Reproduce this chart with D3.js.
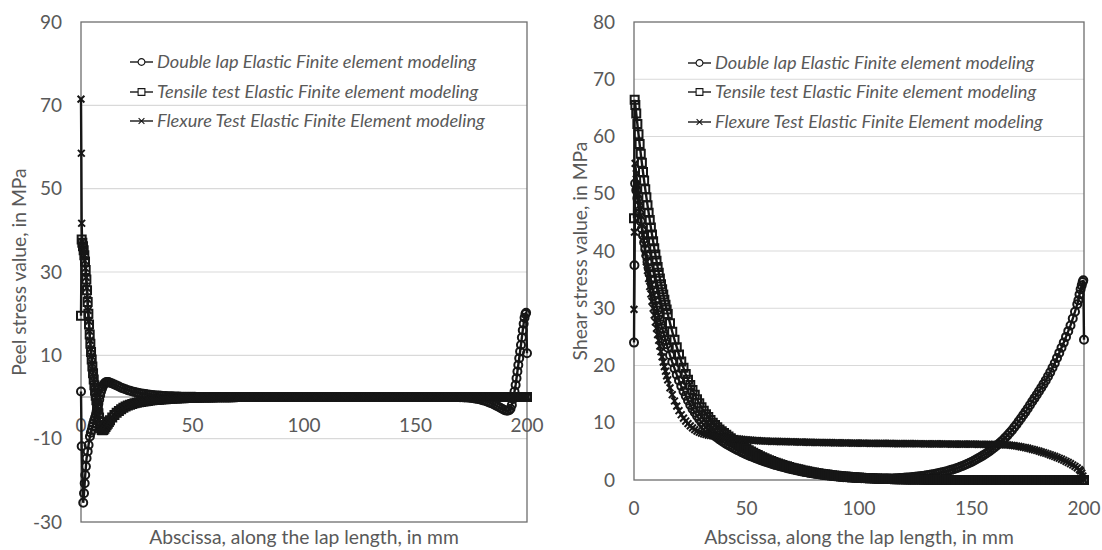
<!DOCTYPE html>
<html><head><meta charset="utf-8">
<script src="https://cdn.jsdelivr.net/npm/d3@7"></script>
<style>body{margin:0;background:#fff} text{font-family:Lato,"Open Sans",sans-serif}</style>
</head><body>
<svg id="c" width="1102" height="550"></svg>
<script>
// ---------- shared labels ----------
const seriesNames = ["Double lap Elastic Finite element modeling","Tensile test Elastic Finite element modeling","Flexure Test Elastic Finite Element modeling"];
const xTitle = "Abscissa, along the lap length, in mm";
const peelTitle = "Peel stress value, in MPa";
const shearTitle = "Shear stress value, in MPa";
const xTickValues = [0,50,100,150,200];
const peelTickValues = [-30,-10,10,30,50,70,90];
const shearTickValues = [0,10,20,30,40,50,60,70,80];

// ---------- PEEL (left chart) ----------
const peelGridX = [13,14,15,16,17,18,19,20,21,22,23,24,25,26,27,28,29,30,31,32,
33,34,35,36,37,38,39,40,41,42,43,44,45,46,47,48,49,50,51,52,
53,54,55,56,57,58,59,60,61,62,63,64,65,66,67,68,69,70,71,72,
73,74,75,76,77,78,79,80,81,82,83,84,85,86,87,88,89,90,91,92,
93,94,95,96,97,98,99,100,101,102,103,104,105,106,107,108,109,110,111,112,
113,114,115,116,117,118,119,120,121,122,123,124,125,126,127,128,129,130,131,132,
133,134,135,136,137,138,139,140,141,142,143,144,145,146,147,148,149,150,151,152,
153,154,155,156,157,158,159,160,161,162,163,164,165,166,167,168,169,170,171,172,
173,174,175,176,177,178,179,180,181,182,183,184,185,186,187,188,189,190,191,192];

const peelDoubleStart = [[0,1.3],[0.3,-11.8],[1.0,-25.4],[1.35,-23.1],[1.65,-20.7],[1.9,-18.7],[2.2,-16.7],[2.5,-14.7],[3.0,-13.1],[3.4,-11.5],[4.0,-9.5],[4.4,-8.6],[4.8,-7.9],[5.15,-7.1],[5.5,-6.3],[5.9,-5.6],[6.3,-4.9],[6.7,-4.2],[7.0,-3.5],[7.4,-2.6],[7.8,-1.6],[8.2,-0.6],[8.6,0.4],[9.0,1.3],[9.4,2.0],[9.8,2.6],[10.2,3.0],[10.6,3.3],[11.0,3.5],[11.5,3.6],[12.0,3.6],[12.5,3.55]];
const peelDoubleMid = [3.45,3.25,3.0,2.75,2.5,2.25,2.05,1.85,1.65,1.5,1.35,1.2,1.08,0.97,0.87,0.78,0.7,0.62,0.55,0.49,
0.43,0.38,0.34,0.3,0.26,0.23,0.2,0.18,0.16,0.14,0.12,0.1,0.09,0.08,0.07,0.06,0.05,0.04,0.04,0.03,
0.03,0.02,0.02,0.02,0.01,0.01,0.01,0.01,0,0,0,0,0,0,0,0,0,0,0,0,
0,0,0,0,0,0,0,0,0,0,0,0,0,0,0,0,0,0,0,0,
0,0,0,0,0,0,0,0,0,0,0,0,0,0,0,0,0,0,0,0,
0,0,0,0,0,0,0,0,0,0,0,0,0,0,0,0,0,0,0,0,
0,0,0,0,0,0,0,0,0,0,0,0,0,0,0,0,0,0,0,0,
0,0,0,0,0,0,0,0,0,0,0,0,0,0,0,0,-0.02,-0.04,-0.06,-0.09,
-0.13,-0.18,-0.24,-0.31,-0.4,-0.5,-0.62,-0.76,-0.92,-1.1,-1.3,-1.52,-1.76,-2.02,-2.3,-2.6,-2.9,-3.15,-3.3,-3.2];
const peelDoubleEnd = [[192.6,-2.8],[193.2,-1.9],[193.8,-0.5],[194.4,1.3],[194.9,2.9],[195.3,4.5],[195.7,6.1],[196.1,7.7],[196.5,9.3],[196.9,10.9],[197.3,12.5],[197.7,14.3],[198.1,16],[198.5,17.6],[198.9,19],[199.3,19.9],[199.6,20.2],[200,10.5]];

const peelTensileStart = [[0,19.5],[0.3,37.8],[0.6,37],[0.9,36.2],[1.2,35.2],[1.5,34],[1.8,32.5],[2.1,30.5],[2.4,28.2],[2.7,25.6],[3.0,22.8],[3.3,20],[3.6,17.4],[3.9,15],[4.2,12.8],[4.5,10.8],[4.8,9],[5.1,7.3],[5.4,5.7],[5.7,4.2],[6.0,2.8],[6.3,1.5],[6.6,0.3],[6.9,-0.8],[7.2,-1.9],[7.5,-2.9],[7.8,-3.9],[8.1,-4.9],[8.4,-5.9],[8.7,-6.8],[9.0,-7.5],[9.3,-7.9],[9.6,-8.0],[10,-7.9],[10.5,-7.6],[11,-7.2],[11.5,-6.8],[12,-6.4],[12.5,-6.0]];
const peelTensileMid = [-5.6,-4.9,-4.3,-3.8,-3.35,-2.95,-2.6,-2.3,-2.05,-1.85,-1.65,-1.5,-1.38,-1.27,-1.17,-1.08,-1.0,-0.93,-0.86,-0.8,
-0.74,-0.69,-0.64,-0.59,-0.55,-0.51,-0.47,-0.44,-0.41,-0.38,-0.35,-0.32,-0.3,-0.28,-0.26,-0.24,-0.22,-0.2,-0.18,-0.17,
-0.15,-0.14,-0.13,-0.12,-0.11,-0.1,-0.09,-0.08,-0.07,-0.06,-0.05,-0.05,-0.04,-0.04,-0.03,-0.03,-0.02,-0.02,-0.01,-0.01,
0,0,0,0,0,0,0,0,0,0,0,0,0,0,0,0,0,0,0,0,
0,0,0,0,0,0,0,0,0,0,0,0,0,0,0,0,0,0,0,0,
0,0,0,0,0,0,0,0,0,0,0,0,0,0,0,0,0,0,0,0,
0,0,0,0,0,0,0,0,0,0,0,0,0,0,0,0,0,0,0,0,
0,0,0,0,0,0,0,0,0,0,0,0,0,0,0,0,0,0,0,0,
0,0,0,0,0,0,0,0,0,0,0,0,0,0,0,0,0,0,0,0];
const peelTensileEnd = [[193,0],[194,0],[195,0],[196,0],[197,0],[198,0],[199,0],[200,0]];

const peelFlexureStart = [[0,71.5],[0.15,58.5],[0.3,41.7],[0.5,37.2],[0.8,36.3],[1.1,35.3],[1.4,34.1],[1.7,32.7],[2.0,30.9],[2.3,28.7],[2.6,26.2],[2.9,23.5],[3.2,20.8],[3.5,18.2],[3.8,15.8],[4.1,13.6],[4.4,11.6],[4.7,9.8],[5.0,8.1],[5.3,6.5],[5.6,5.0],[5.9,3.6],[6.2,2.3],[6.5,1.1],[6.8,0],[7.1,-1.1],[7.4,-2.2],[7.7,-3.3],[8.0,-4.4],[8.3,-5.4],[8.6,-6.4],[8.9,-7.2],[9.2,-7.8],[9.5,-8.1],[9.9,-8.1],[10.3,-7.9],[10.8,-7.5],[11.3,-7.0],[11.8,-6.6],[12.4,-6.1]];
const peelFlexureMid = [-5.7,-5.0,-4.4,-3.9,-3.45,-3.05,-2.7,-2.4,-2.15,-1.93,-1.74,-1.58,-1.45,-1.33,-1.22,-1.12,-1.03,-0.95,-0.88,-0.81,
-0.75,-0.7,-0.65,-0.6,-0.56,-0.52,-0.48,-0.45,-0.42,-0.39,-0.36,-0.33,-0.31,-0.29,-0.27,-0.25,-0.23,-0.21,-0.19,-0.18,
-0.16,-0.15,-0.14,-0.13,-0.12,-0.11,-0.1,-0.09,-0.08,-0.07,-0.06,-0.05,-0.05,-0.04,-0.04,-0.03,-0.03,-0.02,-0.02,-0.01,
0,0,0,0,0,0,0,0,0,0,0,0,0,0,0,0,0,0,0,0,
0,0,0,0,0,0,0,0,0,0,0,0,0,0,0,0,0,0,0,0,
0,0,0,0,0,0,0,0,0,0,0,0,0,0,0,0,0,0,0,0,
0,0,0,0,0,0,0,0,0,0,0,0,0,0,0,0,0,0,0,0,
0,0,0,0,0,0,0,0,0,0,0,0,0,0,0,0,0,0,0,0,
0,0,0,0,0,0,0,0,0,0,0,0,0,0,0,0,0,0,0,0];
const peelFlexureEnd = [[193,0],[194,0],[195,0],[196,0],[197,0],[198,0],[199,0],[200,0]];

// ---------- SHEAR (right chart) ----------
const shearGridX = [41,42,43,44,45,46,47,48,49,50,51,52,53,54,55,56,57,58,59,60,
61,62,63,64,65,66,67,68,69,70,71,72,73,74,75,76,77,78,79,80,
81,82,83,84,85,86,87,88,89,90,91,92,93,94,95,96,97,98,99,100,
101,102,103,104,105,106,107,108,109,110,111,112,113,114,115,116,117,118,119,120,
121,122,123,124,125,126,127,128,129,130,131,132,133,134,135,136,137,138,139,140,
141,142,143,144,145,146,147,148,149,150,151,152,153,154,155,156,157,158,159,160,
161,162,163,164,165,166,167,168,169,170,171,172,173,174,175,176,177,178,179,180,
181,182,183,184,185,186,187,188,189,190,191,192,193,194,195,196,197];

const shearDoubleStart = [[0,24],[0.2,37.5],[0.5,51.8],[1,50.6],[1.5,49.2],[2,47.8],[2.5,46.5],[3,45.2],[3.5,43.9],[4,42.7],[4.5,41.5],[5,40.3],[5.5,39.2],[6,38.1],[6.5,37],[7,36],[7.5,35],[8,34],[8.5,33.1],[9,32.2],[9.5,31.3],[10,30.4],[10.5,29.6],[11,28.8],[11.5,28],[12,27.2],[12.5,26.5],[13,25.8],[13.5,25.1],[14,24.4],[14.5,23.7],[15,23.1],[16,21.8],[17,20.6],[18,19.5],[19,18.4],[20,17.4],[21,16.4],[22,15.5],[23,14.7],[24,13.9],[25,13.1],[26,12.4],[27,11.8],[28,11.2],[29,10.6],[30,10.1],[31,9.6],[32,9.2],[33,8.8],[34,8.4],[35,8.0],[36,7.7],[37,7.4],[38,7.1],[39,6.8],[40,6.55]];
const shearDoubleMid = [6.3,6.07,5.85,5.63,5.42,5.22,5.02,4.83,4.65,4.47,4.3,4.13,3.97,3.81,3.66,3.51,3.37,3.23,3.1,2.97,
2.84,2.72,2.6,2.49,2.38,2.27,2.17,2.07,1.97,1.88,1.79,1.7,1.62,1.54,1.46,1.38,1.31,1.24,1.17,1.11,
1.05,0.99,0.93,0.88,0.83,0.78,0.73,0.69,0.65,0.61,0.57,0.54,0.5,0.47,0.44,0.42,0.39,0.37,0.35,0.33,
0.31,0.3,0.28,0.27,0.26,0.25,0.24,0.24,0.24,0.24,0.24,0.25,0.26,0.27,0.28,0.3,0.32,0.34,0.36,0.39,
0.42,0.45,0.48,0.52,0.56,0.6,0.65,0.7,0.75,0.81,0.87,0.94,1.01,1.08,1.16,1.25,1.34,1.44,1.54,1.65,
1.77,1.89,2.02,2.16,2.31,2.46,2.62,2.79,2.97,3.16,3.36,3.57,3.79,4.02,4.26,4.51,4.77,5.04,5.33,5.63,
5.95,6.3,6.65,7.0,7.4,7.8,8.25,8.7,9.2,9.7,10.25,10.8,11.35,11.9,12.5,13.1,13.7,14.3,14.9,15.5,
16.1,16.75,17.4,18.1,18.8,19.6,20.4,21.3,22.2,23.1,24.0,25.0,26.0,27.0,28.2,29.4,30.7];
const shearDoubleEnd = [[197.5,31.4],[198,32.4],[198.5,33.3],[199,34.0],[199.4,34.6],[199.7,34.9],[200,24.5]];

const shearTensileStart = [[0,45.7],[0.3,66.4],[0.6,65.5],[1,64],[1.5,62.2],[2,60.4],[2.5,58.7],[3,57],[3.5,55.4],[4,53.8],[4.5,52.3],[5,50.8],[5.5,49.4],[6,48],[6.5,46.7],[7,45.4],[7.5,44.1],[8,42.9],[8.5,41.7],[9,40.5],[9.5,39.4],[10,38.3],[10.5,37.2],[11,36.2],[11.5,35.2],[12,34.2],[12.5,33.3],[13,32.4],[13.5,31.5],[14,30.6],[14.5,29.8],[15,29],[16,27.4],[17,25.9],[18,24.5],[19,23.2],[20,21.9],[21,20.7],[22,19.6],[23,18.5],[24,17.5],[25,16.6],[26,15.7],[27,14.9],[28,14.1],[29,13.4],[30,12.7],[31,12.1],[32,11.5],[33,11],[34,10.5],[35,10],[36,9.6],[37,9.2],[38,8.8],[39,8.5],[40,8.2]];
const shearTensileMid = [7.9,7.6,7.3,7.0,6.7,6.4,6.15,5.9,5.65,5.4,5.18,4.96,4.75,4.55,4.35,4.16,3.98,3.8,3.63,3.47,
3.31,3.16,3.02,2.88,2.75,2.62,2.5,2.38,2.27,2.16,2.06,1.96,1.86,1.77,1.68,1.6,1.52,1.44,1.37,1.3,
1.23,1.17,1.11,1.05,0.99,0.94,0.89,0.84,0.8,0.75,0.71,0.67,0.63,0.6,0.56,0.53,0.5,0.47,0.44,0.42,
0.39,0.37,0.35,0.33,0.31,0.29,0.27,0.25,0.24,0.22,0.21,0.2,0.18,0.17,0.16,0.15,0.14,0.13,0.12,0.11,
0.1,0.1,0.09,0.09,0.08,0.08,0.07,0.07,0.06,0.06,0.05,0.05,0.05,0.04,0.04,0.04,0.03,0.03,0.03,0.03,
0.02,0.02,0.02,0.02,0.02,0.02,0.02,0.02,0.02,0.02,0.01,0.01,0.01,0.01,0.01,0.01,0.01,0.01,0.01,0.01,
0,0,0,0,0,0,0,0,0,0,0,0,0,0,0,0,0,0,0,0,
0,0,0,0,0,0,0,0,0,0,0,0,0,0,0,0,0];
const shearTensileEnd = [[198,0],[199,0],[200,0]];

const shearFlexureStart = [[0,29.8],[0.2,43.3],[0.5,55.3],[1,53.5],[1.5,51.6],[2,49.8],[2.5,48],[3,46.2],[3.5,44.5],[4,42.8],[4.5,41.2],[5,39.6],[5.5,38.1],[6,36.6],[6.5,35.2],[7,33.8],[7.5,32.5],[8,31.2],[8.5,30],[9,28.8],[9.5,27.6],[10,26.5],[10.5,25.4],[11,24.4],[11.5,23.4],[12,22.4],[12.5,21.5],[13,20.6],[13.5,19.8],[14,19],[14.5,18.2],[15,17.5],[16,16.1],[17,14.9],[18,13.8],[19,12.9],[20,12.1],[21,11.4],[22,10.8],[23,10.3],[24,9.85],[25,9.45],[26,9.1],[27,8.8],[28,8.55],[29,8.35],[30,8.2],[31,8.05],[32,7.95],[33,7.85],[34,7.77],[35,7.7],[36,7.63],[37,7.57],[38,7.52],[39,7.47],[40,7.42]];
const shearFlexureMid = [7.38,7.34,7.3,7.26,7.22,7.18,7.14,7.1,7.06,7.02,6.99,6.96,6.93,6.9,6.87,6.85,6.83,6.81,6.79,6.77,
6.76,6.75,6.74,6.73,6.72,6.71,6.7,6.69,6.68,6.67,6.66,6.65,6.64,6.63,6.62,6.61,6.6,6.59,6.58,6.57,
6.56,6.55,6.55,6.54,6.53,6.52,6.52,6.51,6.5,6.5,6.49,6.48,6.48,6.47,6.46,6.46,6.45,6.45,6.44,6.44,
6.43,6.43,6.42,6.42,6.41,6.41,6.4,6.4,6.4,6.39,6.39,6.38,6.38,6.38,6.37,6.37,6.36,6.36,6.36,6.35,
6.35,6.35,6.34,6.34,6.34,6.33,6.33,6.33,6.32,6.32,6.32,6.31,6.31,6.31,6.3,6.3,6.3,6.29,6.29,6.29,
6.28,6.28,6.28,6.27,6.27,6.27,6.26,6.26,6.26,6.25,6.25,6.25,6.24,6.24,6.23,6.23,6.22,6.22,6.21,6.21,
6.2,6.19,6.18,6.17,6.15,6.12,6.09,6.05,6.0,5.94,5.87,5.8,5.72,5.64,5.55,5.46,5.36,5.26,5.15,5.04,
4.92,4.8,4.67,4.54,4.4,4.26,4.11,3.96,3.8,3.63,3.45,3.26,3.06,2.85,2.62,2.38,2.12];
const shearFlexureEnd = [[198,1.82],[198.5,1.6],[199,1.2],[199.5,0.7],[200,0]];

// ---------- build series ----------
function joinSeries(start, gridX, mid, end){
  return start.concat(gridX.map((x,i)=>[x, mid[i]]), end);
}
const peelSeries = [
  joinSeries(peelDoubleStart, peelGridX, peelDoubleMid, peelDoubleEnd),
  joinSeries(peelTensileStart, peelGridX, peelTensileMid, peelTensileEnd),
  joinSeries(peelFlexureStart, peelGridX, peelFlexureMid, peelFlexureEnd)
];
const shearSeries = [
  joinSeries(shearDoubleStart, shearGridX, shearDoubleMid, shearDoubleEnd),
  joinSeries(shearTensileStart, shearGridX, shearTensileMid, shearTensileEnd),
  joinSeries(shearFlexureStart, shearGridX, shearFlexureMid, shearFlexureEnd)
];

const svg = d3.select("#c");
svg.append("rect").attr("width",1102).attr("height",550).attr("fill","#fff");
const TXT = "#595959", INK = "#161616";

function markerPath(kind, s){
  if(kind===0) return d3.symbol(d3.symbolCircle, Math.PI*s*s)();
  if(kind===1) return `M${-s},${-s}H${s}V${s}H${-s}Z`;
  const c = s*0.85;
  return `M${-c},${-c}L${c},${c}M${-c},${c}L${c},${-c}`;
}

function drawChart(cfg){
  const x = d3.scaleLinear().domain([0,200]).range(cfg.xRange);
  const y = d3.scaleLinear().domain(cfg.yDomain).range(cfg.yRange);
  const g = svg.append("g");
  g.selectAll(".grid").data(cfg.grid).enter().append("line")
    .attr("x1",cfg.xRange[0]).attr("x2",cfg.xRange[1])
    .attr("y1",d=>y(d)).attr("y2",d=>y(d))
    .attr("stroke","#d9d9d9").attr("stroke-width",1.2);
  if(cfg.zeroLine){
    g.append("line").attr("x1",cfg.xRange[0]).attr("x2",cfg.xRange[1])
      .attr("y1",y(0)).attr("y2",y(0)).attr("stroke","#8a8a8a").attr("stroke-width",1.2);
  }
  g.append("rect").attr("x",cfg.xRange[0]).attr("y",cfg.yRange[1])
    .attr("width",cfg.xRange[1]-cfg.xRange[0]).attr("height",cfg.yRange[0]-cfg.yRange[1])
    .attr("fill","none").attr("stroke","#6e6e6e").attr("stroke-width",1.3);
  g.selectAll(".yl").data(cfg.yTicks).enter().append("text")
    .attr("x",cfg.yLabelX).attr("y",d=>y(d)).attr("dy","0.35em")
    .attr("text-anchor","end").attr("font-size",19).attr("fill",TXT).text(d=>d);
  g.selectAll(".xl").data(xTickValues).enter().append("text")
    .attr("x",d=>x(d)).attr("y",cfg.xLabelY).attr("dy","0.35em")
    .attr("text-anchor","middle").attr("font-size",19).attr("fill",TXT).text(d=>d);
  g.append("text").attr("x",(cfg.xRange[0]+cfg.xRange[1])/2).attr("y",cfg.xTitleY).attr("dy","0.35em")
    .attr("text-anchor","middle").attr("font-size",19.3).attr("fill",TXT).text(xTitle);
  const cy = (cfg.yRange[0]+cfg.yRange[1])/2;
  g.append("text").attr("transform",`translate(${cfg.yTitleX},${cy}) rotate(-90)`).attr("dy","0.35em")
    .attr("text-anchor","middle").attr("font-size",19.3).attr("fill",TXT).text(cfg.yTitle);
  const line = d3.line().x(d=>x(d[0])).y(d=>y(d[1]));
  cfg.series.forEach((s,k)=>{
    const sg = g.append("g");
    sg.append("path").attr("d",line(s)).attr("fill","none").attr("stroke",INK).attr("stroke-width",2.4);
    sg.selectAll(".m").data(s).enter().append("path")
      .attr("d",markerPath(k,4)).attr("transform",d=>`translate(${x(d[0])},${y(d[1])})`)
      .attr("fill","none").attr("stroke",INK).attr("stroke-width",2.0);
  });
  const L = cfg.legend;
  seriesNames.forEach((name,k)=>{
    const ly = L.ys[k];
    g.append("line").attr("x1",L.x0).attr("x2",L.x1).attr("y1",ly).attr("y2",ly)
      .attr("stroke",INK).attr("stroke-width",1.4);
    g.append("path").attr("d",markerPath(k,3.4)).attr("transform",`translate(${(L.x0+L.x1)/2},${ly})`)
      .attr("fill","#fff").attr("stroke",INK).attr("stroke-width",1.1);
    g.append("text").attr("x",L.tx).attr("y",ly).attr("dy","0.35em")
      .attr("font-size",18.2).attr("font-style","italic").attr("fill",TXT).text(name);
  });
}

drawChart({
  xRange:[81,527], yDomain:[-30,90], yRange:[522,22],
  yTicks:peelTickValues, grid:[-10,10,30,50,70], xLabelY:425, yLabelX:62,
  yTitle:peelTitle, yTitleX:19, xTitleY:537, zeroLine:true,
  series:peelSeries,
  legend:{x0:130,x1:153,tx:157,ys:[62,92,121]}
});
drawChart({
  xRange:[634,1084], yDomain:[0,80], yRange:[480,22],
  yTicks:shearTickValues, grid:[10,20,30,40,50,60,70], xLabelY:508, yLabelX:615,
  yTitle:shearTitle, yTitleX:580, xTitleY:537, zeroLine:false,
  series:shearSeries,
  legend:{x0:688,x1:711,tx:715,ys:[63,92,122]}
});
</script>
</body></html>
